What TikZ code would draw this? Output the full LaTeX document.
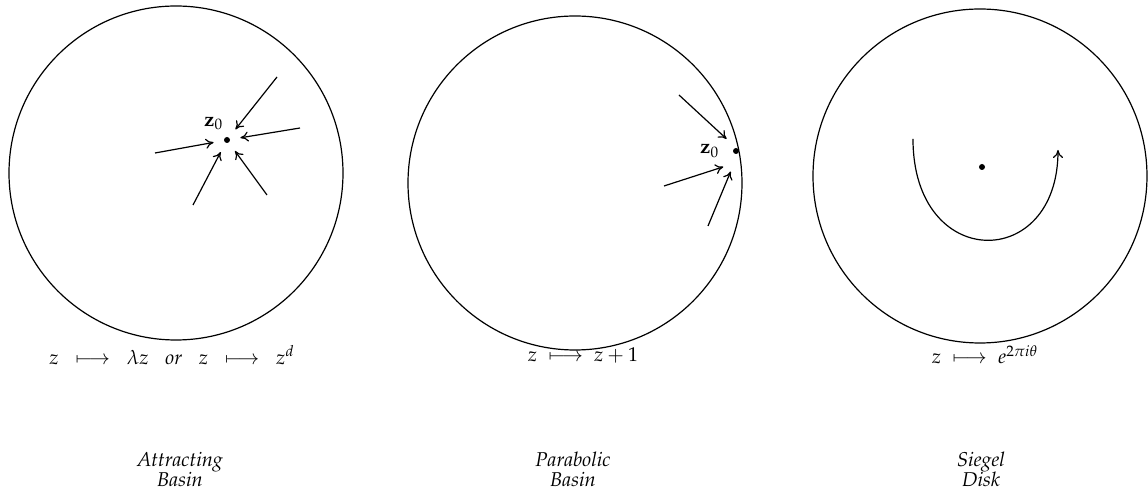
\documentclass[tikz,border=0pt]{standalone}
\usepackage[T1]{fontenc}
\usepackage{mathpazo}
\usetikzlibrary{positioning,arrows.meta}
\usepackage{xcolor}

\begin{document}
\begin{tikzpicture}[x=0.5pt, y=-0.5pt, line width=0.6pt,
    every node/.style={font=\normalsize},
    zdot/.style={circle, fill=black, inner sep=0pt, minimum size=3pt},
    flow/.style={-{To[length=4pt,width=5pt]}, shorten >=3pt},
    basinname/.style={align=center, inner sep=0pt, font=\itshape\fontsize{10}{10}\selectfont}]
    \useasboundingbox (0,0) rectangle (1148,491);

    % the three disks
    \node[circle, draw, minimum size=167pt, inner sep=0pt] (d1) at (176,173) {};
    \node[circle, draw, minimum size=167pt, inner sep=0pt] (d2) at (575,183) {};
    \node[circle, draw, minimum size=167pt, inner sep=0pt] (d3) at (980,176) {};

    % attracting basin
    \node[zdot] (z1) at (227,140) {};
    \node[above left=0pt and -3pt of z1] {$\mathbf{z}_0$};
    \coordinate (a1) at (277,77);
    \coordinate (a2) at (300,128);
    \coordinate (a3) at (155,153);
    \coordinate (a4) at (193,205);
    \coordinate (a5) at (267,195);
    \foreach \a in {a1,a2,a3,a4,a5}
        \draw[flow, shorten >=5pt] (\a) -- (z1);

    % parabolic basin
    \node[zdot] (z2) at (736,151) {};
    \node[left=3pt of z2] {$\mathbf{z}_0$};
    \coordinate (p1) at (679,95);
    \coordinate (p2) at (664,186);
    \coordinate (p3) at (708,226);
    \draw[flow] (p1) -- (731,143);
    \draw[flow] (p2) -- (729,165);
    \draw[flow] (p3) -- (733,166);

    % siegel disk
    \node[zdot] (z3) at (982,167) {};
    \coordinate (s1) at (913,139);
    \coordinate (s2) at (1058,150);
    \draw[-{To[length=4pt,width=5pt]}] (s1) .. controls (913,272) and (1058,272) .. (s2);

    % maps
    \node (f1) at (172,355) {$z \;\;\longmapsto\;\; \lambda z \;\;\;\textit{or}\;\;\; z \;\;\longmapsto\;\; z^d$};
    \node (f2) at (583,355) {$z \;\longmapsto\; z+1$};
    \node (f3) at (985,355) {$z \;\longmapsto\; e^{2\pi i\theta}$};

    % names
    \node[basinname] (n1) at (180,469) {Attracting\\Basin};
    \node[basinname] (n2) at (573,469) {Parabolic\\Basin};
    \node[basinname] (n3) at (981,469) {Siegel\\Disk};
\end{tikzpicture}
\end{document}
